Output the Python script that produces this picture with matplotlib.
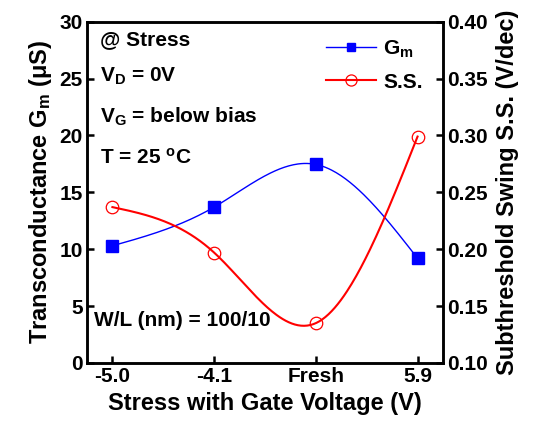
import matplotlib
matplotlib.use('Agg')
import matplotlib.pyplot as plt
import numpy as np

# data
categories = ['-5.0', '-4.1', 'Fresh', '5.9']
gm = [10.3, 13.7, 17.45, 9.2]
ss = [0.237, 0.197, 0.135, 0.299]

plt.rcParams['font.family'] = 'Liberation Sans'
plt.rcParams['font.weight'] = 'bold'
plt.rcParams['mathtext.fontset'] = 'custom'
plt.rcParams['mathtext.rm'] = 'Liberation Sans:bold'
plt.rcParams['mathtext.it'] = 'Liberation Sans:bold'
plt.rcParams['mathtext.bf'] = 'Liberation Sans:bold'
plt.rcParams['mathtext.default'] = 'rm'


def natural_spline(x, y, n=200):
    x = np.asarray(x, float)
    y = np.asarray(y, float)
    k = len(x)
    h = np.diff(x)
    A = np.zeros((k, k))
    r = np.zeros(k)
    A[0, 0] = 1
    A[-1, -1] = 1
    for i in range(1, k - 1):
        A[i, i - 1] = h[i - 1]
        A[i, i] = 2 * (h[i - 1] + h[i])
        A[i, i + 1] = h[i]
        r[i] = 3 * ((y[i + 1] - y[i]) / h[i] - (y[i] - y[i - 1]) / h[i - 1])
    c = np.linalg.solve(A, r)
    xs = np.linspace(x[0], x[-1], n)
    ys = np.empty_like(xs)
    for j, t in enumerate(xs):
        i = min(np.searchsorted(x, t, side='right') - 1, k - 2)
        b = (y[i + 1] - y[i]) / h[i] - h[i] * (2 * c[i] + c[i + 1]) / 3
        d = (c[i + 1] - c[i]) / (3 * h[i])
        dx = t - x[i]
        ys[j] = y[i] + b * dx + c[i] * dx ** 2 + d * dx ** 3
    return xs, ys


x = np.arange(len(categories))

fig = plt.figure(figsize=(5.35, 4.25), dpi=100)
ax = fig.add_axes([0.1626, 0.146, 0.6654, 0.803])
ax2 = ax.twinx()

xs, ys = natural_spline(x, gm)
ax.plot(xs, ys, color='#0000ff', linewidth=1.0)
ax.plot(x, gm, 's', color='#0000ff', markersize=8)

xs, ys = natural_spline(x, ss)
ax2.plot(xs, ys, color='#ff0000', linewidth=1.5)
ax2.plot(x, ss, 'o', markerfacecolor='none', markeredgecolor='#ff0000',
         markersize=9, markeredgewidth=0.9)

ax.set_xlim(-0.25, 3.25)
ax.set_ylim(0, 30)
ax2.set_ylim(0.10, 0.40)
ax.set_xticks(x)
ax.set_xticklabels(categories)
ax.set_yticks(np.arange(0, 31, 5))
ax2.set_yticks(np.arange(0.10, 0.401, 0.05))
ax2.set_yticklabels(['%.2f' % v for v in np.arange(0.10, 0.401, 0.05)])

for a in (ax, ax2):
    for s in a.spines.values():
        s.set_linewidth(1.8)
    a.tick_params(direction='in', length=5, width=1.8, labelsize=15, pad=3)

ax.set_xlabel('Stress with Gate Voltage (V)', fontsize=17, fontweight='bold', labelpad=4)
ax.set_ylabel('Transconductance G$_\\mathrm{m}$ (\u03bcS)', fontsize=17,
              fontweight='bold', labelpad=4)
ax2.set_ylabel('Subthreshold Swing S.S. (V/dec)', fontsize=17, fontweight='bold',
               labelpad=6)

txt = dict(transform=ax.transAxes, fontsize=15, fontweight='bold')
ax.text(0.037, 0.932, '@ Stress', **txt)
ax.text(0.037, 0.823, 'V$_\\mathrm{D}$ = 0V', **txt)
ax.text(0.037, 0.703, 'V$_\\mathrm{G}$ = below bias', **txt)
ax.text(0.037, 0.583, 'T = 25 $^\\mathrm{o}$C', **txt)
ax.text(0.02, 0.108, 'W/L (nm) = 100/10', **txt)

h1, = ax2.plot([], [], 's-', color='#0000ff', linewidth=1.0, markersize=6)
h2, = ax2.plot([], [], 'o-', color='#ff0000', linewidth=1.5, markersize=8,
               markerfacecolor='none', markeredgewidth=0.9)
ax2.legend([h1, h2], ['G$_\\mathrm{m}$', 'S.S.'], loc='upper right', frameon=False,
           fontsize=15, handlelength=2.4, handletextpad=0.35, labelspacing=0.6,
           bbox_to_anchor=(0.995, 1.005))

fig.savefig('out.png', dpi=100)
